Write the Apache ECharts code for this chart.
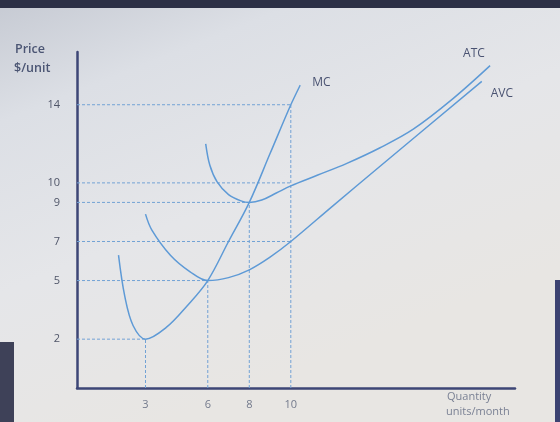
<!DOCTYPE html>
<html><head><meta charset="utf-8">
<script src="https://cdn.jsdelivr.net/npm/echarts@6/dist/echarts.min.js"></script>
<style>html,body{margin:0;padding:0;}#c{width:560px;height:422px;}</style>
</head><body><div id="c"></div>
<script>
// Cost curves (quantity, price)
const mcData  = [[1.7,6.3],[2.0,4.2],[2.4,2.7],[3,2],[4,2.6],[5,3.7],[6,5],[7,7],[8,9],[9,11.5],[10,14],[10.45,15]];
const avcData = [[3,8.4],[3.3,7.6],[4.2,6.3],[5.15,5.45],[6,5],[7.0,5.15],[8,5.55],[9,6.2],[10,7],[12,8.8],[14.3,10.85],[19.2,15.2]];
const atcData = [[5.9,12.0],[6.1,10.9],[6.45,10.05],[7.0,9.4],[7.6,9.08],[8,9.0],[8.6,9.12],[9.3,9.48],[10,9.85],[11.3,10.4],[12.7,11.0],[14.3,11.8],[15.9,12.75],[17.8,14.3],[19.6,16.0]];
// Reference (dashed) points
const guidePoints = [[3,2],[6,5],[8,9],[10,14],[10,10],[10,7]];
const verticalGuides = [[3,2],[6,5],[8,9],[10,14]];
// Tick labels
const xTicks = [3,6,8,10];
const yTicks = [2,5,7,9,10,14];

const X_MIN = -0.3, X_MAX = 20.8, Y_MIN = -0.5, Y_MAX = 16.7;
const curveColor = '#5e9ad6';
const guideColor = '#72a2d5';
const font = '"Open Sans", "Liberation Sans", sans-serif';

const series = [];
guidePoints.forEach(p => {
  series.push({type:'line', data:[[X_MIN,p[1]],[p[0],p[1]]], symbol:'none', silent:true,
    lineStyle:{color:guideColor, width:1, type:[3,2]}, z:1});
});
verticalGuides.forEach(p => {
  series.push({type:'line', data:[[p[0],Y_MIN],[p[0],p[1]]], symbol:'none', silent:true,
    lineStyle:{color:guideColor, width:1, type:[3,2]}, z:1});
});
series.push({name:'MC', type:'line', data:mcData, smooth:0.35, symbol:'none',
  lineStyle:{color:curveColor, width:1.5}, z:3,
  endLabel:{show:true, formatter:'MC', color:'#4a5372', fontFamily:font, fontSize:12, offset:[4,-3]}});
series.push({name:'AVC', type:'line', data:avcData, smooth:0.35, symbol:'none',
  lineStyle:{color:curveColor, width:1.5}, z:3,
  endLabel:{show:true, formatter:'AVC', color:'#4a5372', fontFamily:font, fontSize:12, offset:[1,12]}});
series.push({name:'ATC', type:'line', data:atcData, smooth:0.35, symbol:'none',
  lineStyle:{color:curveColor, width:1.5}, z:3,
  endLabel:{show:true, formatter:'ATC', color:'#4a5372', fontFamily:font, fontSize:12, offset:[-35,-12]}});

const chart = echarts.init(document.getElementById('c'), null, {renderer:'canvas'});
chart.setOption({
  animation:false,
  backgroundColor:{type:'linear', x:0, y:0, x2:0.3, y2:1, colorStops:[
    {offset:0, color:'#c6cad3'}, {offset:0.25, color:'#dcdfe5'}, {offset:0.6, color:'#e5e6e9'}, {offset:1, color:'#e8e6e3'}]},
  grid:{left:77, right:45, top:52, bottom:34},
  xAxis:{type:'value', min:X_MIN, max:X_MAX,
    axisLine:{show:true, onZero:false, lineStyle:{color:'#3d4676', width:2.5}},
    axisTick:{show:false}, splitLine:{show:false},
    axisLabel:{customValues:xTicks, color:'#737a8c', fontFamily:font, fontSize:11, margin:11}},
  yAxis:{type:'value', min:Y_MIN, max:Y_MAX,
    axisLine:{show:true, onZero:false, lineStyle:{color:'#3d4676', width:2.5}},
    axisTick:{show:false}, splitLine:{show:false},
    axisLabel:{customValues:yTicks, color:'#4f5568', fontFamily:font, fontSize:11, margin:17}},
  graphic:[
    {type:'rect', shape:{x:0, y:0, width:560, height:8}, style:{fill:'#2c3046'}, z:100},
    {type:'rect', shape:{x:555, y:280, width:5, height:142}, style:{fill:'#3c4372'}, z:100},
    {type:'rect', shape:{x:0, y:342, width:14, height:80}, style:{fill:'#3e4158'}, z:100},
    {type:'text', left:15, top:43, style:{text:'Price', fill:'#4b5573', font:'600 12.5px ' + font}},
    {type:'text', left:14, top:62, style:{text:'$/unit', fill:'#4b5573', font:'600 12.5px ' + font}},
    {type:'text', left:447, top:391, style:{text:'Quantity', fill:'#7a8194', font:'11px ' + font}},
    {type:'text', left:446, top:406, style:{text:'units/month', fill:'#7a8194', font:'11px ' + font}}
  ],
  series:series
});
</script></body></html>
